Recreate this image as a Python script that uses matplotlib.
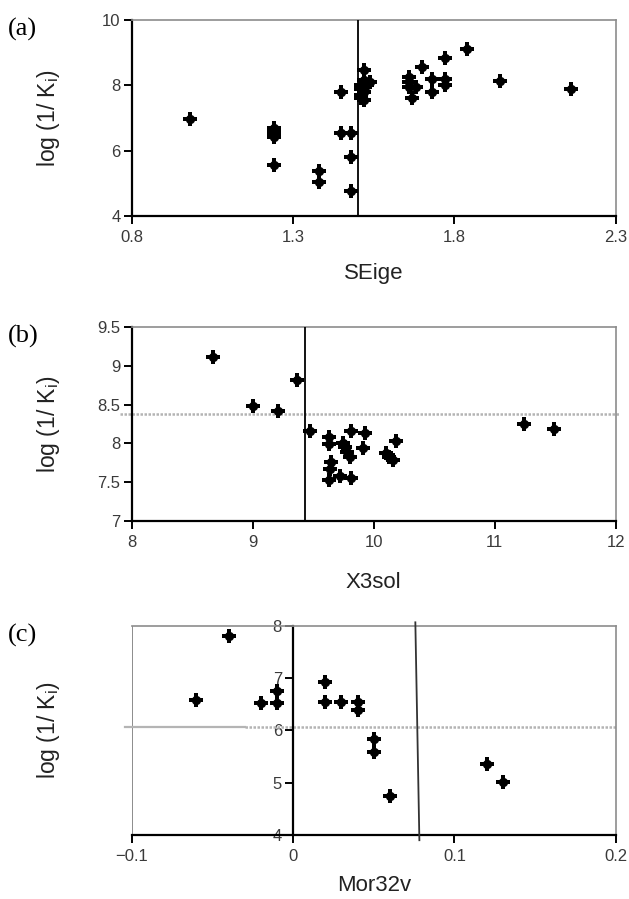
import matplotlib
matplotlib.use("Agg")
import matplotlib.pyplot as plt

plt.rcParams["font.family"] = ["Liberation Sans", "DejaVu Sans"]

# panel (a): SEige vs log(1/Ki)
a_x = [0.98, 1.24, 1.24, 1.24, 1.24, 1.24, 1.38, 1.38, 1.45, 1.45, 1.48, 1.48, 1.48,
       1.52, 1.52, 1.51, 1.51, 1.52, 1.51, 1.51, 1.52, 1.54, 1.53,
       1.66, 1.66, 1.66, 1.68, 1.67, 1.70, 1.73, 1.73, 1.77, 1.77, 1.77, 1.84, 1.94, 2.16]
a_y = [6.96, 6.68, 6.58, 6.50, 6.42, 5.56, 5.39, 5.05, 7.79, 6.55, 6.55, 5.82, 4.78,
       8.46, 8.15, 8.00, 7.90, 7.80, 7.70, 7.60, 7.55, 8.10, 8.00,
       8.25, 8.10, 7.95, 7.95, 7.62, 8.55, 8.20, 7.80, 8.85, 8.20, 8.00, 9.11, 8.12, 7.90]
a_cut = 1.5

# panel (b): X3sol vs log(1/Ki)
b_x = [8.67, 9.37, 9.00, 9.21, 9.47, 9.63, 9.63, 9.75, 9.76, 9.78, 9.80, 9.81, 9.93,
       9.91, 9.65, 9.64, 9.63, 9.72, 9.81, 10.18, 10.10, 10.13, 10.16, 11.24, 11.49]
b_y = [9.11, 8.82, 8.48, 8.42, 8.16, 8.08, 7.99, 8.01, 7.95, 7.89, 7.82, 8.16, 8.14,
       7.94, 7.76, 7.67, 7.53, 7.58, 7.56, 8.03, 7.88, 7.83, 7.78, 8.25, 8.19]
b_cut_x = 9.43
b_cut_y = 8.38

# panel (c): Mor32v vs log(1/Ki)
c_x = [-0.04, -0.06, -0.02, -0.01, -0.01, 0.02, 0.02, 0.03, 0.04, 0.04, 0.05, 0.05, 0.06, 0.12, 0.13]
c_y = [7.80, 6.58, 6.53, 6.75, 6.53, 6.93, 6.54, 6.54, 6.54, 6.40, 5.83, 5.58, 4.75, 5.36, 5.01]
c_cut_x = [0.0758, 0.0783]   # slightly slanted split line, top -> bottom
c_cut_y = 6.06

panels = [
    dict(tag="(a)", x=a_x, y=a_y, xlim=(0.8, 2.3), ylim=(4, 10),
         xt=[0.8, 1.3, 1.8, 2.3], xtl=["0.8", "1.3", "1.8", "2.3"],
         yt=[4, 6, 8, 10], ytl=["4", "6", "8", "10"], xlabel="SEige",
         rect=[0.2094, 0.7597, 0.7695, 0.218], xlab_y=-0.24),
    dict(tag="(b)", x=b_x, y=b_y, xlim=(8, 12), ylim=(7, 9.5),
         xt=[8, 9, 10, 11, 12], xtl=["8", "9", "10", "11", "12"],
         yt=[7, 7.5, 8, 8.5, 9, 9.5], ytl=["7", "7.5", "8", "8.5", "9", "9.5"], xlabel="X3sol",
         rect=[0.2094, 0.4205, 0.7695, 0.2158], xlab_y=-0.265),
    dict(tag="(c)", x=c_x, y=c_y, xlim=(-0.1, 0.2), ylim=(4, 8),
         xt=[-0.1, 0, 0.1, 0.2], xtl=["\u22120.1", "0", "0.1", "0.2"],
         yt=[4, 5, 6, 7, 8], ytl=["4", "5", "6", "7", "8"], xlabel="Mor32v",
         rect=[0.2094, 0.0712, 0.7695, 0.2325], xlab_y=-0.19),
]

fig = plt.figure(figsize=(6.29, 8.99), dpi=100)
grey = "#8c8c8c"
axes = []
for p in panels:
    ax = fig.add_axes(p["rect"])
    axes.append(ax)
    # rounded fat cross: filled plus with a disc underneath
    ax.scatter(p["x"], p["y"], marker="o", s=45, color="black", zorder=5, clip_on=False,
               linewidths=0)
    ax.scatter(p["x"], p["y"], marker="P", s=95, color="black", zorder=5, clip_on=False,
               linewidths=0)
    ax.set_xlim(*p["xlim"]); ax.set_ylim(*p["ylim"])
    ax.set_xticks(p["xt"]); ax.set_xticklabels(p["xtl"])
    ax.set_yticks(p["yt"]); ax.set_yticklabels(p["ytl"])
    for s in ("top", "right"):
        ax.spines[s].set_color(grey); ax.spines[s].set_linewidth(1.2)
    for s in ("left", "bottom"):
        ax.spines[s].set_color("black"); ax.spines[s].set_linewidth(1.6)
    ax.tick_params(direction="out", length=6, width=1.4, color="black",
                   labelsize=12, labelcolor="#3a3a3a")
    ax.tick_params(axis="x", pad=4)
    ax.tick_params(axis="y", pad=2)
    ax.set_xlabel(p["xlabel"], fontsize=16, color="#222222")
    ax.xaxis.set_label_coords(0.5, p["xlab_y"])
    ax.set_ylabel(r"log (1/ K$_\mathregular{i}$)", fontsize=16.5, color="#222222")
    ax.yaxis.set_label_coords(-0.145, 0.5)
    ax.text(-0.256, 1.012, p["tag"], transform=ax.transAxes, fontsize=19,
            family="Liberation Serif", va="top", ha="left")

ax_a, ax_b, ax_c = axes
ax_a.axvline(a_cut, color="black", lw=1.3, zorder=3)

ax_b.axvline(b_cut_x, color="black", lw=1.3, zorder=3)
ax_b.plot([7.9, 12.03], [b_cut_y, b_cut_y], color="#b4b4b4", lw=1.8, ls=(0, (1, 0.6)),
          clip_on=False, zorder=2)

# panel (c): y axis sits at x = 0, grey frame on the left
ax_c.spines["left"].set_position(("data", 0))
ax_c.axvline(-0.1, color=grey, lw=1.4, zorder=1)
ax_c.plot([-0.104, -0.03], [c_cut_y, c_cut_y], color="#b4b4b4", lw=1.6, clip_on=False, zorder=2)
ax_c.plot([-0.03, 0.2], [c_cut_y, c_cut_y], color="#b4b4b4", lw=1.8, ls=(0, (1, 0.6)), zorder=2)
ax_c.plot(c_cut_x, [8.07, 3.9], color="#333333", lw=1.3, clip_on=False, zorder=3)

fig.savefig("out.png", dpi=100)
